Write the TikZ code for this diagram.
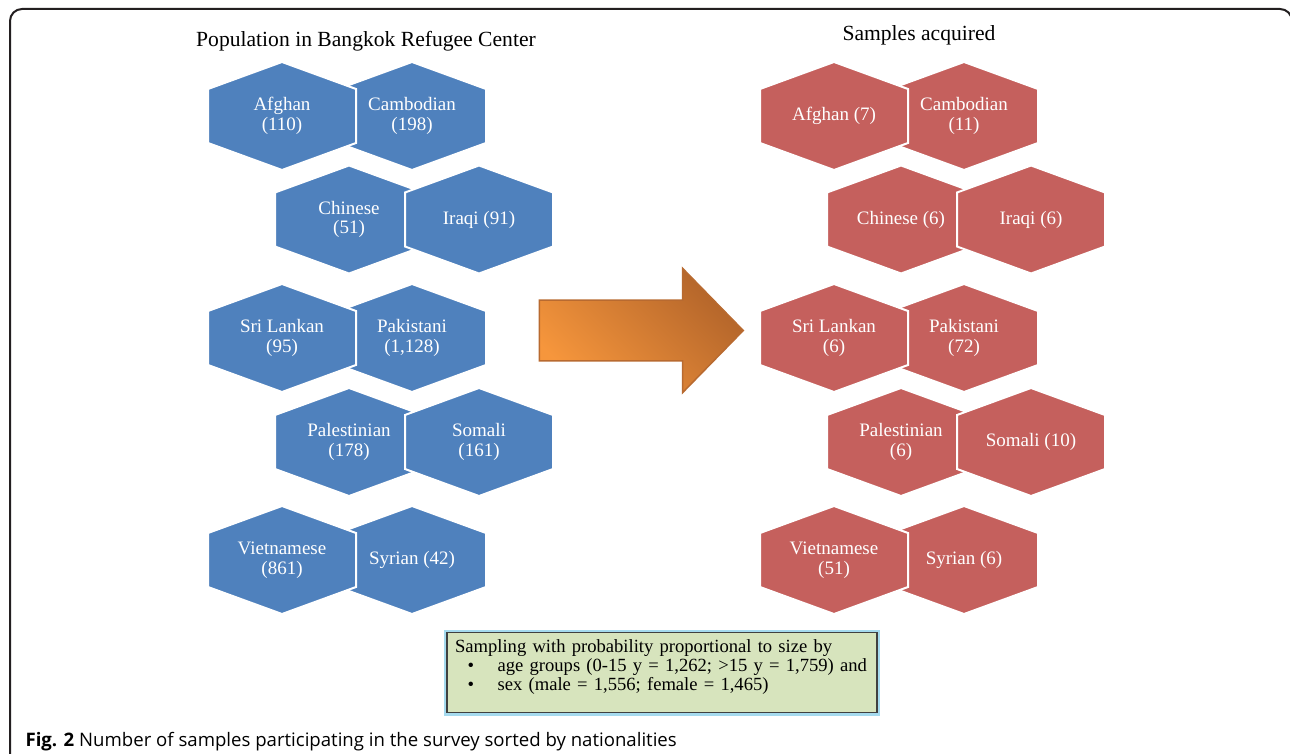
\documentclass[tikz,border=0pt]{standalone}
\usepackage{fontspec}
\setmainfont{Liberation Serif}
\newfontfamily\capfont{Open Sans}
\usetikzlibrary{shapes.arrows}

\definecolor{hexblue}{RGB}{79,129,189}
\definecolor{hexred}{RGB}{197,96,93}
\definecolor{arrowlight}{RGB}{246,150,60}
\definecolor{arrowdark}{RGB}{178,100,42}
\definecolor{arrowline}{RGB}{184,106,48}
\definecolor{notegreen}{RGB}{215,228,189}
\definecolor{noteglow}{RGB}{165,218,238}
\definecolor{framegray}{RGB}{35,31,32}

\begin{document}
\begin{tikzpicture}[x=0.5pt,y=-0.5pt,node distance=65pt,semithick,
    hexa/.style={rectangle,minimum width=76pt,minimum height=56pt,inner sep=0pt,
                 text=white,align=center,font=\fontsize{9.5}{9.8}\selectfont,
                 path picture={\fill[#1,draw=white,line width=1pt]
                   ([shift={(0pt,27pt)}]path picture bounding box.center) --
                   ([shift={(37pt,13.5pt)}]path picture bounding box.center) --
                   ([shift={(37pt,-13.5pt)}]path picture bounding box.center) --
                   ([shift={(0pt,-27pt)}]path picture bounding box.center) --
                   ([shift={(-37pt,-13.5pt)}]path picture bounding box.center) --
                   ([shift={(-37pt,13.5pt)}]path picture bounding box.center) -- cycle;}}]
  \tikzstyle{pop}=[hexa=hexblue]
  \tikzstyle{smp}=[hexa=hexred]
  \tikzstyle{heading}=[font=\fontsize{10.8}{12}\selectfont]
  \tikzstyle{bigarrow}=[single arrow,minimum height=102pt,minimum width=61.5pt,
                        inner xsep=0pt,inner ysep=14.75pt,single arrow head extend=16pt,
                        single arrow tip angle=91.4,draw=arrowline,line width=0.75pt,
                        left color=arrowlight,right color=arrowdark,shading angle=135]
  \tikzstyle{notebox}=[draw=black!75,line width=0.6pt,fill=notegreen,
                       preaction={draw=noteglow,line width=3pt},
                       text width=207pt,inner xsep=4pt,inner ysep=3.5pt,align=left,
                       font=\fontsize{9.3}{9.5}\selectfont]

  \useasboundingbox (0,0) rectangle (1290,754);
  \draw[framegray,line width=1pt,rounded corners=6pt] (10,800) -- (10,9) -- (1292,9) -- (1292,800);

  \node[heading] (popTitle) at (366,41)  {Population in Bangkok Refugee Center};
  \node[heading] (smpTitle) at (919,35)  {Samples acquired};

  \node[pop] (camPop) at (412,116)   {Cambodian\\(198)};
  \node[pop] (afgPop) [left of=camPop]  {Afghan\\(110)};
  \node[pop] (chiPop) at (349,219.5) {Chinese\\(51)};
  \node[pop] (iraPop) [right of=chiPop] {Iraqi (91)};
  \node[pop] (pakPop) at (412,338)   {Pakistani\\(1,128)};
  \node[pop] (sriPop) [left of=pakPop]  {Sri Lankan\\(95)};
  \node[pop] (palPop) at (349,442)   {Palestinian\\(178)};
  \node[pop] (somPop) [right of=palPop] {Somali\\(161)};
  \node[pop] (syrPop) at (412,560)   {Syrian (42)};
  \node[pop] (viePop) [left of=syrPop]  {Vietnamese\\(861)};

  \node[bigarrow] (flow) at (626.5,330.5) {};

  \node[smp] (camSmp) at (964,116)   {Cambodian\\(11)};
  \node[smp] (afgSmp) [left of=camSmp]  {Afghan (7)};
  \node[smp] (chiSmp) at (901,219.5) {Chinese (6)};
  \node[smp] (iraSmp) [right of=chiSmp] {Iraqi (6)};
  \node[smp] (pakSmp) at (964,338)   {Pakistani\\(72)};
  \node[smp] (sriSmp) [left of=pakSmp]  {Sri Lankan\\(6)};
  \node[smp] (palSmp) at (901,442)   {Palestinian\\(6)};
  \node[smp] (somSmp) [right of=palSmp] {Somali (10)};
  \node[smp] (syrSmp) at (964,560)   {Syrian (6)};
  \node[smp] (vieSmp) [left of=syrSmp]  {Vietnamese\\(51)};

  \node[notebox,anchor=north] (note) at (662,632)
    {Sampling with probability proportional to size by\\
     \hspace*{6.3pt}\makebox[15pt][l]{\textbullet}age groups (0-15 y = 1,262; >15 y = 1,759) and\\
     \hspace*{6.3pt}\makebox[15pt][l]{\textbullet}sex (male = 1,556; female = 1,465)\rule[-7.5pt]{0pt}{7.5pt}};

  \node[anchor=base west,inner sep=0pt,font=\capfont\fontsize{9.3}{11}\selectfont] (figCap) at (25,746)
    {\textbf{Fig. 2} Number of samples participating in the survey sorted by nationalities};
\end{tikzpicture}
\end{document}
